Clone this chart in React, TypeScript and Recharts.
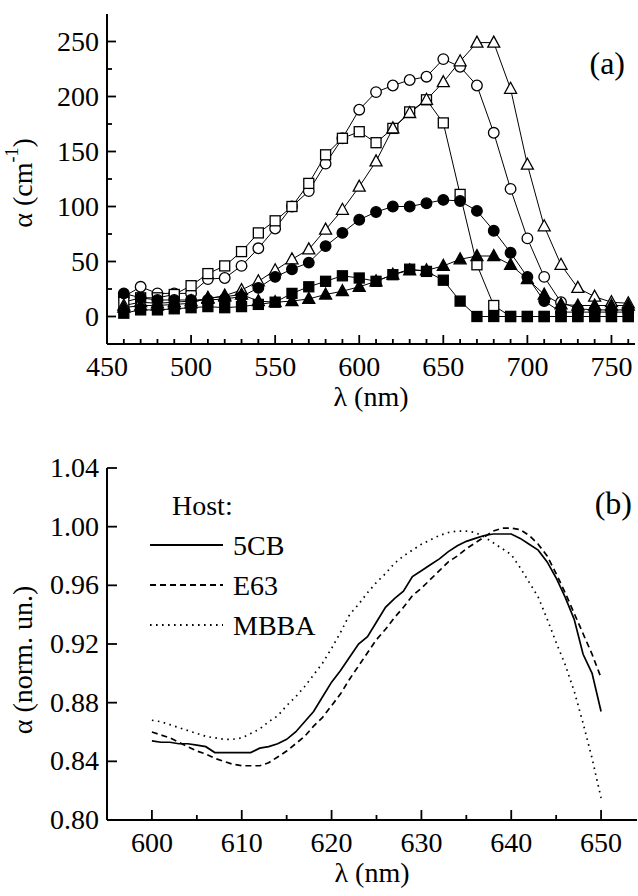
import { LineChart, Line, XAxis, YAxis, Label, Legend } from "recharts";

const FONT = "Liberation Serif, DejaVu Serif, Times New Roman, Noto Serif, serif";

// ---- panel (a): absorption vs wavelength, six samples ----
const wavelengthsA = [
  460, 470, 480, 490, 500, 510, 520, 530, 540, 550, 560, 570, 580, 590, 600, 610,
  620, 630, 640, 650, 660, 670, 680, 690, 700, 710, 720, 730, 740, 750, 760,
];
const openCircles = [
  18, 27, 21, 21, 21, 34, 35, 46, 62, 80, 100, 114, 139, 162, 188, 204,
  210, 215, 218, 234, 227, 210, 167, 116, 71, 36, 13, 7, 6, 6, 6,
];
const openSquares = [
  13, 17, 17, 20, 28, 39, 46, 59, 76, 87, 100, 121, 147, 162, 168, 158,
  171, 186, 197, 176, 111, 47, 10, 0, 0, 0, 0, 0, 0, 0, 0,
];
const openTriangles = [
  10, 13, 12, 13, 14, 16, 19, 24, 32, 42, 52, 61, 79, 97, 118, 141,
  171, 185, 197, 213, 232, 249, 249, 207, 138, 82, 47, 26, 18, 13, 12,
];
const filledCircles = [
  21, 17, 15, 15, 15, 15, 16, 18, 26, 36, 43, 49, 64, 76, 88, 95,
  100, 100, 103, 106, 105, 96, 78, 58, 36, 14, 4, 4, 4, 4, 4,
];
const filledSquares = [
  3, 6, 6, 7, 8, 9, 8, 9, 11, 13, 21, 27, 32, 37, 35, 32,
  38, 43, 41, 33, 14, 0, 0, 0, 0, 0, 0, 0, 0, 0, 0,
];
const filledTriangles = [
  8, 10, 10, 11, 12, 17, 18, 20, 14, 13, 14, 16, 20, 23, 27, 32,
  38, 42, 42, 46, 52, 55, 55, 47, 34, 20, 11, 10, 10, 10, 10,
];

// ---- panel (b): normalised absorption in three hosts ----
const wavelengthsB = [
  600, 601, 602, 603, 604, 605, 606, 607, 608, 609, 610, 611, 612, 613, 614, 615, 616,
  617, 618, 619, 620, 621, 622, 623, 624, 625, 626, 627, 628, 629, 630, 631, 632, 633,
  634, 635, 636, 637, 638, 639, 640, 641, 642, 643, 644, 645, 646, 647, 648, 649, 650,
];
const host5CB = [
  0.854, 0.853, 0.853, 0.852, 0.852, 0.851, 0.85, 0.846, 0.846, 0.846,
  0.846, 0.846, 0.849, 0.85, 0.852, 0.855, 0.86, 0.867, 0.874, 0.884,
  0.894, 0.902, 0.911, 0.92, 0.925, 0.935, 0.945, 0.951, 0.956, 0.966,
  0.97, 0.974, 0.978, 0.983, 0.987, 0.99, 0.992, 0.994, 0.995, 0.995,
  0.995, 0.992, 0.988, 0.984, 0.976, 0.965, 0.952, 0.937, 0.913, 0.9, 0.874,
];
const hostE63 = [
  0.86, 0.858, 0.856, 0.853, 0.85, 0.847, 0.845, 0.842, 0.84, 0.838,
  0.837, 0.837, 0.837, 0.839, 0.843, 0.847, 0.852, 0.857, 0.864, 0.87,
  0.878, 0.886, 0.896, 0.905, 0.914, 0.923, 0.93, 0.938, 0.945, 0.953,
  0.958, 0.964, 0.97, 0.976, 0.98, 0.985, 0.989, 0.993, 0.997, 0.999,
  0.999, 0.998, 0.994, 0.988, 0.98, 0.968, 0.955, 0.941, 0.927, 0.913, 0.897,
];
const hostMBBA = [
  0.868, 0.867, 0.865, 0.863, 0.861, 0.859, 0.857, 0.856, 0.855, 0.855,
  0.856, 0.859, 0.862, 0.867, 0.871, 0.878, 0.884, 0.891, 0.899, 0.907,
  0.917, 0.928, 0.94, 0.947, 0.955, 0.962, 0.968, 0.975, 0.98, 0.984,
  0.988, 0.991, 0.994, 0.996, 0.997, 0.997, 0.996, 0.993, 0.989, 0.985,
  0.981, 0.972, 0.962, 0.952, 0.937, 0.921, 0.906, 0.888, 0.866, 0.842, 0.815,
];

// tick positions (majors get labels)
const ticksAX = [
  450, 460, 470, 480, 490, 500, 510, 520, 530, 540, 550, 560, 570, 580, 590, 600,
  610, 620, 630, 640, 650, 660, 670, 680, 690, 700, 710, 720, 730, 740, 750, 760,
];
const ticksAY = [0, 25, 50, 75, 100, 125, 150, 175, 200, 225, 250];
const ticksBX = [600, 605, 610, 615, 620, 625, 630, 635, 640, 645, 650];
const ticksBY = [0.8, 0.84, 0.88, 0.92, 0.96, 1.0, 1.04];

const rowsA = wavelengthsA.map((wl, i) => ({
  wl,
  oc: openCircles[i],
  os: openSquares[i],
  ot: openTriangles[i],
  fc: filledCircles[i],
  fs: filledSquares[i],
  ft: filledTriangles[i],
}));

const rowsB = wavelengthsB.map((wl, i) => ({
  wl,
  cb5: host5CB[i],
  e63: hostE63[i],
  mbba: hostMBBA[i],
}));

const hostSeries = [
  { key: "cb5", name: "5CB", dash: undefined as string | undefined },
  { key: "e63", name: "E63", dash: "6 4" },
  { key: "mbba", name: "MBBA", dash: "1.6 4.4" },
];

const txt = { fontFamily: FONT, fill: "#000" };

type Side = "bottom" | "top" | "left" | "right";

// inward ticks drawn by hand, labels only on majors of bottom/left axes
const axisTick =
  (side: Side, isMajor: (v: number) => boolean, majorLen: number, minorLen: number, fmt?: (v: number) => string) =>
  (props: any) => {
    const { x, y, payload, index } = props;
    const v = payload.value as number;
    const major = isMajor(v);
    const len = major ? majorLen : minorLen;
    let x2 = x;
    let y2 = y;
    if (side === "bottom") y2 = y - len;
    if (side === "top") y2 = y + len;
    if (side === "left") x2 = x + len;
    if (side === "right") x2 = x - len;
    const label = fmt && major ? fmt(v) : null;
    return (
      <g key={`${side}-${index}`}>
        <line x1={x} y1={y} x2={x2} y2={y2} stroke="#000" strokeWidth={1.8} />
        {label && side === "bottom" && (
          <text x={x} y={y + 32} textAnchor="middle" fontSize={28} style={txt}>
            {label}
          </text>
        )}
        {label && side === "left" && (
          <text x={x - 8} y={y + 9} textAnchor="end" fontSize={28} style={txt}>
            {label}
          </text>
        )}
      </g>
    );
  };

const every50 = (v: number) => v % 50 === 0;
const every10 = (v: number) => Math.round(v) % 10 === 0;
const always = () => true;

const markerDot =
  (shape: "circle" | "square" | "triangle", filled: boolean, id: string) => (p: any) => {
    const { cx, cy, index } = p;
    const style = { fill: filled ? "#000" : "#fff", stroke: "#000", strokeWidth: 1.3 };
    const key = `${id}-${index}`;
    if (shape === "circle") return <circle key={key} cx={cx} cy={cy} r={5.3} {...style} />;
    if (shape === "square")
      return <rect key={key} x={cx - 5} y={cy - 5} width={10} height={10} {...style} />;
    return (
      <polygon
        key={key}
        points={`${cx},${cy - 6.5} ${cx + 6},${cy + 4.5} ${cx - 6},${cy + 4.5}`}
        {...style}
      />
    );
  };

const xTitle = (dy: number) => (p: any) => {
  const vb = p.viewBox;
  return (
    <text x={vb.x + vb.width / 2} y={vb.y + dy} textAnchor="middle" fontSize={28} style={txt}>
      λ (nm)
    </text>
  );
};

const yTitleA = (p: any) => {
  const vb = p.viewBox;
  const cx = 22;
  const cy = vb.y + vb.height / 2 + 4;
  return (
    <text
      x={cx}
      y={cy}
      transform={`rotate(-90, ${cx}, ${cy})`}
      textAnchor="middle"
      dominantBaseline="central"
      fontSize={28}
      style={txt}>
      α (cm
      <tspan dy={-10} fontSize={18}>
        -1
      </tspan>
      <tspan dy={10}>)</tspan>
    </text>
  );
};

const yTitleB = (p: any) => {
  const vb = p.viewBox;
  const cx = 22;
  const cy = vb.y + vb.height / 2 + 16;
  return (
    <text
      x={cx}
      y={cy}
      transform={`rotate(-90, ${cx}, ${cy})`}
      textAnchor="middle"
      dominantBaseline="central"
      fontSize={28}
      style={txt}>
      α (norm. un.)
    </text>
  );
};

// panel tag "(a)" sits in the upper right corner of the plot
const tagA = () => (
  <svg width={638} height={100} style={{ display: "block" }}>
    <text x={625} y={74} textAnchor="end" fontSize={32} style={txt}>
      (a)
    </text>
  </svg>
);

const hostLegend = () => (
  <svg width={638} height={240} style={{ display: "block" }}>
    <text x={172} y={95} fontSize={28} style={txt}>
      Host:
    </text>
    {hostSeries.map((s, i) => (
      <g key={s.key}>
        <line
          x1={150}
          x2={223}
          y1={125 + i * 40}
          y2={125 + i * 40}
          stroke="#000"
          strokeWidth={1.8}
          strokeDasharray={s.dash}
        />
        <text x={233} y={135 + i * 40} fontSize={28} style={txt}>
          {s.name}
        </text>
      </g>
    ))}
    <text x={632} y={94} textAnchor="end" fontSize={32} style={txt}>
      (b)
    </text>
  </svg>
);

const axisLineStyle = { stroke: "#000", strokeWidth: 2 };

export default function App() {
  return (
    <div
      style={{
        position: "fixed",
        left: 0,
        top: 0,
        width: 638,
        height: 896,
        background: "#fff",
        fontFamily: FONT,
      }}>
      <div style={{ position: "absolute", left: 0, top: 0 }}>
        <LineChart width={638} height={420} data={rowsA} margin={{ top: 14, right: 3, bottom: 0, left: 0 }}>
          <XAxis
            dataKey="wl"
            type="number"
            domain={[450, 764]}
            ticks={ticksAX}
            interval={0}
            height={76}
            tickSize={0}
            tickMargin={0}
            tickLine={false}
            axisLine={axisLineStyle}
            tick={axisTick("bottom", every50, 9, 5, (v) => String(v))}>
            <Label content={xTitle(62)} />
          </XAxis>
          <XAxis
            xAxisId="top"
            orientation="top"
            type="number"
            domain={[450, 764]}
            ticks={ticksAX}
            interval={0}
            height={0}
            tickSize={0}
            tickMargin={0}
            tickLine={false}
            axisLine={axisLineStyle}
            tick={axisTick("top", every50, 9, 5)}
          />
          <YAxis
            type="number"
            domain={[-25, 275]}
            ticks={ticksAY}
            interval={0}
            width={107}
            tickSize={0}
            tickMargin={0}
            tickLine={false}
            axisLine={axisLineStyle}
            tick={axisTick("left", every50, 9, 5, (v) => String(v))}>
            <Label content={yTitleA} />
          </YAxis>
          <YAxis
            yAxisId="right"
            orientation="right"
            type="number"
            domain={[-25, 275]}
            ticks={ticksAY}
            interval={0}
            width={0}
            tickSize={0}
            tickMargin={0}
            tickLine={false}
            axisLine={axisLineStyle}
            tick={axisTick("right", every50, 9, 5)}
          />
          <Legend
            layout="vertical"
            align="center"
            verticalAlign="middle"
            content={tagA}
            wrapperStyle={{ left: 0, top: 0, width: 638, height: 100 }}
          />
          <Line dataKey="oc" stroke="#000" strokeWidth={1} dot={markerDot("circle", false, "oc")} activeDot={false} isAnimationActive={false} />
          <Line dataKey="os" stroke="#000" strokeWidth={1} dot={markerDot("square", false, "os")} activeDot={false} isAnimationActive={false} />
          <Line dataKey="ot" stroke="#000" strokeWidth={1} dot={markerDot("triangle", false, "ot")} activeDot={false} isAnimationActive={false} />
          <Line dataKey="fc" stroke="#000" strokeWidth={1} dot={markerDot("circle", true, "fc")} activeDot={false} isAnimationActive={false} />
          <Line dataKey="fs" stroke="#000" strokeWidth={1} dot={markerDot("square", true, "fs")} activeDot={false} isAnimationActive={false} />
          <Line dataKey="ft" stroke="#000" strokeWidth={1} dot={markerDot("triangle", true, "ft")} activeDot={false} isAnimationActive={false} />
        </LineChart>
      </div>

      <div style={{ position: "absolute", left: 0, top: 420 }}>
        <LineChart width={638} height={476} data={rowsB} margin={{ top: 48, right: 1, bottom: 0, left: 0 }}>
          <XAxis
            dataKey="wl"
            type="number"
            domain={[595, 654]}
            ticks={ticksBX}
            interval={0}
            height={76}
            tickSize={0}
            tickMargin={0}
            tickLine={false}
            axisLine={axisLineStyle}
            tick={axisTick("bottom", every10, 10, 5, (v) => String(v))}>
            <Label content={xTitle(62)} />
          </XAxis>
          <XAxis
            xAxisId="top"
            orientation="top"
            type="number"
            domain={[595, 654]}
            ticks={ticksBX}
            interval={0}
            height={0}
            tickSize={0}
            tickMargin={0}
            tickLine={false}
            axisLine={axisLineStyle}
            tick={axisTick("top", every10, 10, 5)}
          />
          <YAxis
            type="number"
            domain={[0.8, 1.04]}
            ticks={ticksBY}
            interval={0}
            width={107}
            tickSize={0}
            tickMargin={0}
            tickLine={false}
            axisLine={axisLineStyle}
            tick={axisTick("left", always, 10, 10, (v) => v.toFixed(2))}>
            <Label content={yTitleB} />
          </YAxis>
          <YAxis
            yAxisId="right"
            orientation="right"
            type="number"
            domain={[0.8, 1.04]}
            ticks={ticksBY}
            interval={0}
            width={0}
            tickSize={0}
            tickMargin={0}
            tickLine={false}
            axisLine={axisLineStyle}
            tick={axisTick("right", always, 10, 10)}
          />
          <Legend
            layout="vertical"
            align="center"
            verticalAlign="middle"
            content={hostLegend}
            wrapperStyle={{ left: 0, top: 0, width: 638, height: 240 }}
          />
          {hostSeries.map((s) => (
            <Line
              key={s.key}
              dataKey={s.key}
              name={s.name}
              type="linear"
              stroke="#000"
              strokeWidth={1.7}
              strokeDasharray={s.dash}
              dot={false}
              activeDot={false}
              isAnimationActive={false}
            />
          ))}
        </LineChart>
      </div>
    </div>
  );
}
